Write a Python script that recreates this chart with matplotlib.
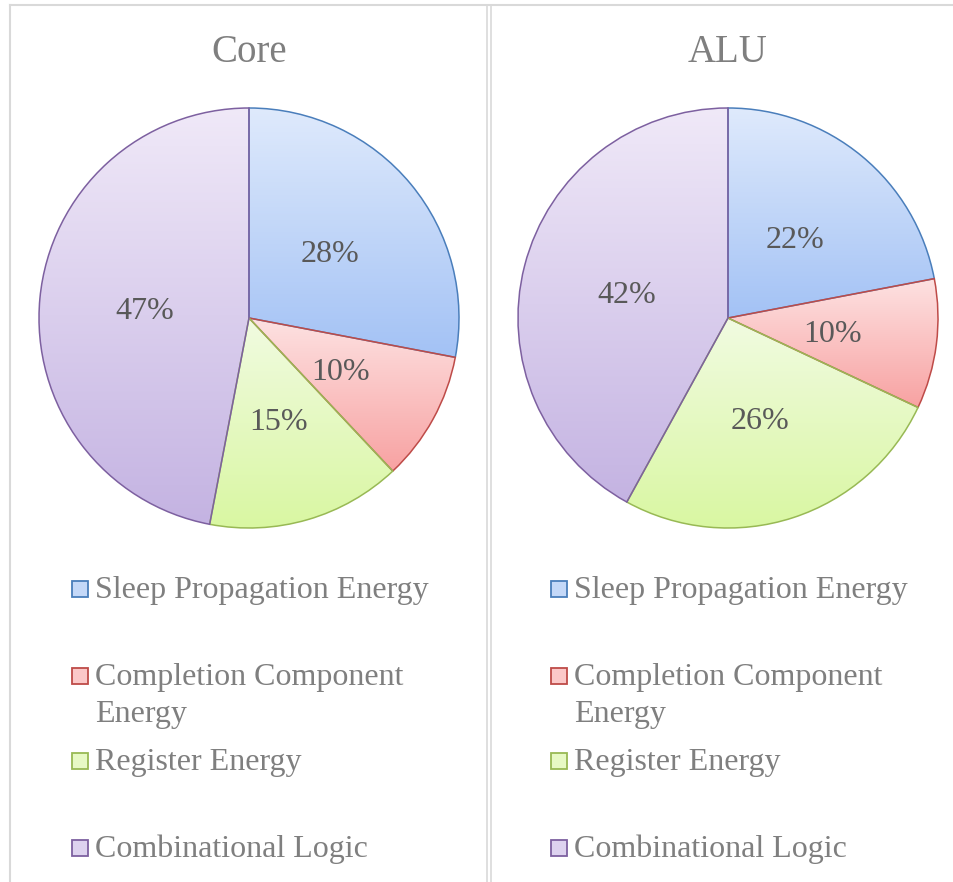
import numpy as np
import matplotlib
matplotlib.use("Agg")
import matplotlib.pyplot as plt
from matplotlib.lines import Line2D
from matplotlib.patches import Rectangle
from matplotlib.colors import to_rgb

# ---- data ----
categories = ["Sleep Propagation Energy", "Completion Component\nEnergy",
              "Register Energy", "Combinational Logic"]
titles = ["Core", "ALU"]
core_values = [28, 10, 15, 47]
alu_values = [22, 10, 26, 42]

# ---- styles ----
grad_top = ["#dfeafc", "#fde2e2", "#f1fbe1", "#f0e9f8"]
grad_bot = ["#a3c2f5", "#f8a2a2", "#d9f7a2", "#c4b3e2"]
edge_cols = ["#4a7ebb", "#be4b48", "#98b954", "#7d60a0"]
marker_fill = ["#c4d8f8", "#fbc8c8", "#e7f9c4", "#ddd2ef"]
text_gray = "#7f7f7f"
pct_gray = "#595959"
FONT = "Liberation Serif"

W, H = 954, 882
fig = plt.figure(figsize=(W / 100, H / 100), dpi=100)
fig.patch.set_facecolor("white")


def fx(px):
    return px / W


def fy(py):
    return 1 - py / H


R = 210
centers_x = [249, 728]
center_y = 318

for k, (title, vals) in enumerate(zip(titles, [core_values, alu_values])):
    cx = centers_x[k]
    ax = fig.add_axes([fx(cx - R), fy(center_y + R), 2 * R / W, 2 * R / H])
    wedges, texts, autotexts = ax.pie(
        vals, startangle=90, counterclock=False, radius=1.0,
        autopct="%1.0f%%", pctdistance=0.5, labels=None,
        wedgeprops=dict(linewidth=1.1),
        textprops=dict(fontfamily=FONT, fontsize=23, color=pct_gray))
    for i, w in enumerate(wedges):
        w.set_facecolor("none")
        w.set_edgecolor(edge_cols[i])
        w.set_clip_on(False)
        w.set_zorder(3)
        bb = w.get_path().get_extents()
        t = to_rgb(grad_top[i])
        b = to_rgb(grad_bot[i])
        n = 256
        f = np.linspace(0, 1, n)[:, None]
        grad = (np.array(t)[None, :] * (1 - f) + np.array(b)[None, :] * f)[:, None, :]
        im = ax.imshow(grad, extent=[bb.x0, bb.x1, bb.y0, bb.y1], origin="upper",
                       interpolation="bilinear", aspect="auto", zorder=1)
        im.set_clip_path(w)
    for t in autotexts:
        t.set_zorder(5)
        t.set_verticalalignment("center_baseline")
    ax.set_xlim(-1, 1)
    ax.set_ylim(-1, 1)
    ax.set_aspect("equal")
    ax.axis("off")

    # title
    fig.text(fx(cx), fy(62), title, ha="center", va="baseline",
             fontfamily=FONT, fontsize=28, color=text_gray)

    # legend
    baselines = [598, 685, 770, 857]
    mx = 72 + (cx - 249)
    tx = 95 + (cx - 249)
    for i, lab in enumerate(categories):
        by = baselines[i]
        fig.add_artist(Rectangle((fx(mx), fy(by - 1)), 16 / W, 16 / H,
                                 transform=fig.transFigure, facecolor=marker_fill[i],
                                 edgecolor=edge_cols[i], linewidth=1.3))
        for j, line in enumerate(lab.split("\n")):
            fig.text(fx(tx), fy(by + 37 * j), line, ha="left", va="baseline",
                     fontfamily=FONT, fontsize=23, color=text_gray)

# panel borders
bcol = "#d9d9d9"
fig.add_artist(Line2D([fx(10), fx(954)], [fy(5), fy(5)], color=bcol, lw=1.5,
                      transform=fig.transFigure))
fig.add_artist(Line2D([fx(10), fx(10)], [fy(5), fy(882)], color=bcol, lw=1.5,
                      transform=fig.transFigure))
fig.add_artist(Line2D([fx(487), fx(487)], [fy(5), fy(882)], color=bcol, lw=1.2,
                      transform=fig.transFigure))
fig.add_artist(Line2D([fx(491), fx(491)], [fy(5), fy(882)], color=bcol, lw=1.2,
                      transform=fig.transFigure))

fig.savefig("out.png", dpi=100)
